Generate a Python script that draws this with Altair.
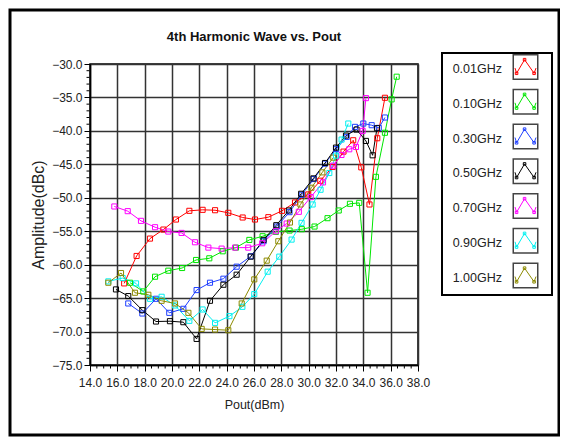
import altair as alt
import pandas as pd

freqs = ["0.01GHz", "0.10GHz", "0.30GHz", "0.50GHz", "0.70GHz", "0.90GHz", "1.00GHz"]
colors = ["#ff0000", "#00e600", "#1f3fff", "#000000", "#ff00ff", "#00f0f0", "#8c8a00"]

red_x = [16.5, 17.41, 18.39, 19.37, 20.29, 21.27, 22.24, 23.15, 24.12, 25.17, 26.07, 27.05, 28.05, 29.0, 29.97, 30.85, 31.75, 32.55, 33.26, 33.85, 34.45, 35.02, 35.58]
red_y = [-62.8, -58.7, -56.1, -54.75, -53.25, -51.95, -51.8, -51.86, -52.25, -52.95, -53.25, -52.9, -51.95, -50.7, -49.5, -47.45, -45.4, -43.1, -41.4, -45.45, -51.0, -41.1, -35.05]

green_x = [16.93, 17.9, 18.76, 19.73, 20.74, 21.76, 22.73, 23.71, 24.68, 25.66, 26.63, 27.6, 28.6, 29.5, 30.43, 31.38, 32.2, 33.02, 33.7, 34.31, 34.92, 35.58, 36.07, 36.44]
green_y = [-62.7, -64.0, -61.8, -60.9, -60.5, -59.3, -59.05, -58.0, -57.45, -56.3, -55.75, -55.1, -54.9, -54.7, -54.3, -53.05, -51.9, -50.9, -50.76, -64.2, -46.87, -40.28, -35.29, -31.9]

blue_x = [16.8, 17.83, 18.83, 19.8, 20.83, 21.8, 22.78, 23.76, 24.73, 25.76, 26.7, 27.66, 28.6, 29.49, 30.37, 31.19, 32.02, 32.78, 33.39, 34.0, 34.61, 35.13, 35.58]
blue_y = [-65.8, -67.3, -65.1, -67.2, -66.6, -63.8, -62.7, -62.1, -60.3, -58.75, -56.5, -54.3, -52.15, -49.55, -47.2, -44.9, -42.7, -40.9, -39.4, -38.9, -39.15, -39.55, -38.0]

black_x = [15.9, 16.8, 17.83, 18.83, 19.85, 20.83, 21.8, 22.78, 23.76, 24.73, 25.76, 26.7, 27.63, 28.55, 29.45, 30.35, 31.2, 32.0, 32.73, 33.5, 34.19, 34.68, 35.0]
black_y = [-63.7, -64.7, -66.8, -68.5, -68.45, -68.6, -71.1, -65.4, -63.0, -61.5, -58.8, -56.3, -54.1, -51.9, -49.4, -47.1, -44.8, -42.5, -40.7, -39.8, -41.5, -43.65, -39.6]

magenta_x = [15.78, 16.76, 17.73, 18.76, 19.73, 20.7, 21.68, 22.66, 23.63, 24.61, 25.58, 26.6, 27.6, 28.39, 29.28, 30.15, 31.05, 31.8, 32.4, 32.97, 33.46, 33.95, 34.19]
magenta_y = [-51.3, -52.0, -53.45, -54.4, -55.05, -55.25, -56.65, -57.45, -57.6, -57.45, -57.45, -56.8, -55.0, -53.85, -52.1, -49.9, -47.7, -45.2, -43.6, -42.75, -42.4, -40.0, -35.1]

cyan_x = [15.34, 16.39, 17.37, 18.39, 19.24, 20.22, 21.27, 22.24, 23.15, 24.2, 25.15, 26.02, 27.0, 27.85, 28.75, 29.48, 30.29, 30.87, 31.51, 32.0, 32.41, 32.9]
cyan_y = [-62.5, -62.0, -62.8, -65.1, -64.8, -66.1, -68.4, -66.7, -68.7, -67.7, -66.3, -64.4, -61.05, -58.8, -56.25, -53.75, -51.0, -48.8, -46.3, -43.7, -41.3, -38.9]

olive_x = [15.34, 16.27, 17.29, 18.27, 19.24, 20.22, 21.2, 22.17, 23.15, 24.12, 25.1, 26.02, 26.93, 27.78, 28.63, 29.4, 30.2, 31.0, 31.8]
olive_y = [-62.7, -61.25, -64.2, -64.5, -65.4, -65.8, -67.2, -69.6, -69.7, -69.8, -65.8, -62.2, -59.4, -56.5, -53.7, -51.0, -48.5, -46.2, -44.0]

x_ticks = [14, 16, 18, 20, 22, 24, 26, 28, 30, 32, 34, 36, 38]
y_ticks = [-75, -70, -65, -60, -55, -50, -45, -40, -35, -30]

title_text = "4th Harmonic Wave vs. Pout"

series_x = [red_x, green_x, blue_x, black_x, magenta_x, cyan_x, olive_x]
series_y = [red_y, green_y, blue_y, black_y, magenta_y, cyan_y, olive_y]

rows = []
for f, xs, ys in zip(freqs, series_x, series_y):
    for i, (a, b) in enumerate(zip(xs, ys)):
        rows.append({"freq": f, "pout": a, "amp": b, "idx": i})
df = pd.DataFrame(rows)

minor_y = [v for v in range(-75, -29) if v % 5 != 0]
minor_x = [14 + 0.5 * i for i in range(49) if i % 4 != 0]

FONT = "Liberation Sans"
x_scale = alt.Scale(domain=[14, 38], nice=False, zero=False)
y_scale = alt.Scale(domain=[-75, -30], nice=False, zero=False)
color_scale = alt.Scale(domain=freqs, range=colors)

one = pd.DataFrame({"a": [0]})

outer = alt.Chart(one).mark_rect(fill="transparent", stroke="black", strokeWidth=3).encode(
    x=alt.value(-80), x2=alt.value(469), y=alt.value(-54), y2=alt.value(371)
)

title = alt.Chart(one).mark_text(
    align="center", baseline="middle", font=FONT, fontSize=13, fontWeight="bold", color="#111"
).encode(x=alt.value(164), y=alt.value(-27), text=alt.value(title_text))

lines = alt.Chart(df).mark_line(
    strokeWidth=1,
    point=alt.OverlayMarkDef(shape="square", filled=False, size=26, strokeWidth=1),
).encode(
    x=alt.X("pout:Q", scale=x_scale,
            axis=alt.Axis(values=x_ticks, tickCount=40, format=".1f", title="Pout(dBm)",
                          labelPadding=6, titlePadding=10, titleFontSize=12.5,
                          labelOverlap=False, labelFlush=False)),
    y=alt.Y("amp:Q", scale=y_scale,
            axis=alt.Axis(values=y_ticks, tickCount=40, format=".1f", title="Amplitude(dBc)",
                          labelPadding=2, titlePadding=5, titleFontSize=16,
                          labelOverlap=False, labelFlush=False)),
    color=alt.Color("freq:N", scale=color_scale, legend=None),
    order="idx:Q",
)

ymin = alt.Chart(pd.DataFrame({"v": minor_y})).mark_tick(
    orient="horizontal", size=3, thickness=1, color="black", opacity=1
).encode(y=alt.Y("v:Q", scale=y_scale), x=alt.value(-2))

xmin = alt.Chart(pd.DataFrame({"v": minor_x})).mark_tick(
    orient="vertical", size=3, thickness=1, color="black", opacity=1
).encode(x=alt.X("v:Q", scale=x_scale), y=alt.value(303))

main = alt.layer(outer, title, lines, ymin, xmin)

leg_df = pd.DataFrame({"freq": freqs})
leg_y = alt.Y("freq:N", scale=alt.Scale(domain=freqs, type="point", range=[5, 213.5], padding=0), axis=None)

leg_box = alt.Chart(one).mark_rect(fill="white", stroke="black", strokeWidth=2).encode(
    x=alt.value(352), x2=alt.value(462), y=alt.value(-11), y2=alt.value(231)
)
leg_text = alt.Chart(leg_df).mark_text(
    align="right", baseline="middle", fontSize=12.5, font=FONT, color="#222"
).encode(y=leg_y, x=alt.value(412), text="freq:N")
leg_sq = alt.Chart(leg_df).mark_square(
    size=600, fill="white", stroke="#444", strokeWidth=1.5, opacity=1, yOffset=-2
).encode(y=leg_y, x=alt.value(435.5))

icon = ("M-1,0.1L-0.85,0.6L-0.09,-0.7L0.82,0.6L1,0.1"
        "M-0.97,0.48h0.24v0.24h-0.24z"
        "M-0.21,-0.82h0.24v0.24h-0.24z"
        "M0.7,0.48h0.24v0.24h-0.24z")
leg_icon = alt.Chart(leg_df).mark_point(
    shape=icon, size=440, filled=False, strokeWidth=1, opacity=1, yOffset=-2
).encode(y=leg_y, x=alt.value(435.5),
         color=alt.Color("freq:N", scale=color_scale, legend=None))

legend = alt.layer(leg_box, leg_text, leg_sq, leg_icon)

chart = alt.layer(main, legend).resolve_scale(y="independent", x="independent").properties(
    width=328, height=301,
    padding={"left": 82, "top": 56, "right": 142, "bottom": 73},
    autosize=alt.AutoSizeParams(type="none"),
    background="white",
).configure_axis(
    labelFont=FONT, labelFontSize=12, labelColor="#222",
    titleFont=FONT, titleFontWeight="normal", titleColor="#222",
    domainColor="black", domainWidth=1.5,
    tickColor="black", tickSize=6, tickWidth=1,
    gridColor="#333", gridWidth=1.5, gridOpacity=1, grid=True,
).configure_view(stroke="black", strokeWidth=1.5)

chart.save("out.html", embed_options={"renderer": "svg", "actions": False})
